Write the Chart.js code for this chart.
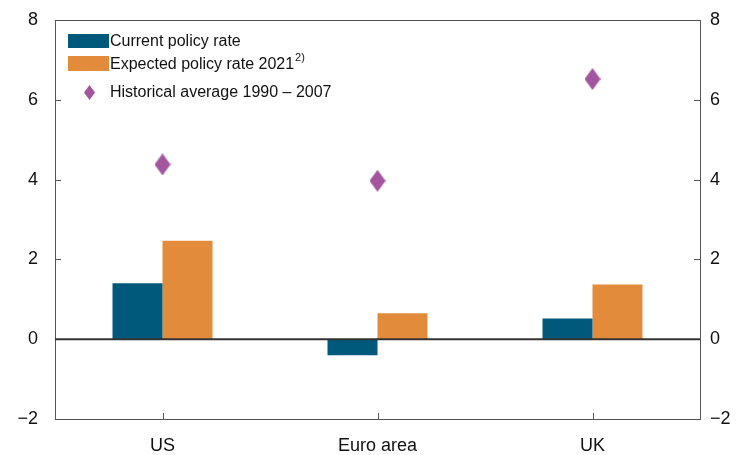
<!DOCTYPE html>
<html lang="en">
<head>
    <meta charset="UTF-8">
    <title>Policy rates</title>
    <style>
        body { margin: 0; background: #fff; }
        .chart-container { width: 741px; height: 455px; }
    </style>
</head>
<body>
    <div class="chart-container">
        <canvas id="myChart" width="741" height="455"></canvas>
    </div>

    <script src="https://cdn.jsdelivr.net/npm/chart.js"></script>
    <script>
        const categories = ['US', 'Euro area', 'UK'];
        const currentRate = [1.4, -0.4, 0.52];
        const expectedRate = [2.47, 0.65, 1.37];
        const historicalAvg = [4.38, 3.97, 6.52];
        const yTicks = [-2, 0, 2, 4, 6, 8];

        const blue = '#00587a';
        const orange = '#e28c3b';
        const purple = '#a3559e';
        const fontFamily = '"Liberation Sans", Arial, sans-serif';

        // elongated diamond used as point style
        function makeDiamond(w, h) {
            const c = document.createElement('canvas');
            c.width = w; c.height = h;
            const g = c.getContext('2d');
            g.fillStyle = purple;
            g.beginPath();
            g.moveTo(w / 2, 0);
            g.lineTo(w, h / 2);
            g.lineTo(w / 2, h);
            g.lineTo(0, h / 2);
            g.closePath();
            g.fill();
            return c;
        }
        const diamond = makeDiamond(16, 22);
        const smallDiamond = makeDiamond(11, 15);

        // box frame, inward ticks, zero line and legend
        const decorations = {
            id: 'decorations',
            afterDatasetsDraw(chart) {
                const { ctx, chartArea: a, scales } = chart;
                ctx.save();
                ctx.strokeStyle = '#555';
                ctx.lineWidth = 1;
                ctx.strokeRect(a.left + 0.5, a.top + 0.5, a.right - a.left, a.bottom - a.top);
                ctx.beginPath();
                yTicks.forEach(v => {
                    const y = Math.round(scales.y.getPixelForValue(v)) + 0.5;
                    ctx.moveTo(a.left, y); ctx.lineTo(a.left + 6, y);
                    ctx.moveTo(a.right, y); ctx.lineTo(a.right - 6, y);
                });
                categories.forEach((c, i) => {
                    const x = Math.round(scales.x.getPixelForValue(i)) + 0.5;
                    ctx.moveTo(x, a.bottom); ctx.lineTo(x, a.bottom - 6);
                });
                ctx.stroke();

                const y0 = scales.y.getPixelForValue(0);
                ctx.strokeStyle = '#333';
                ctx.lineWidth = 2;
                ctx.beginPath();
                ctx.moveTo(a.left, y0); ctx.lineTo(a.right, y0);
                ctx.stroke();

                // legend
                ctx.font = '16px ' + fontFamily;
                ctx.textBaseline = 'middle';
                ctx.fillStyle = blue;
                ctx.fillRect(68, 34, 41, 14);
                ctx.fillStyle = orange;
                ctx.fillRect(68, 56, 41, 15);
                ctx.drawImage(smallDiamond, 84, 85);
                ctx.fillStyle = '#111';
                ctx.fillText('Current policy rate', 110, 42);
                ctx.fillText('Expected policy rate 2021', 110, 65);
                const w = ctx.measureText('Expected policy rate 2021').width;
                ctx.font = '11px ' + fontFamily;
                ctx.fillText('2)', 110 + w + 1, 58);
                ctx.font = '16px ' + fontFamily;
                ctx.fillText('Historical average 1990 \u2013 2007', 110, 93);
                ctx.restore();
            }
        };

        const tickFont = { family: fontFamily, size: 18 };
        const fmt = v => String(v).replace('-', '\u2212');
        function fitY(width) {
            return function (s) {
                s.width = width;
                s.paddingTop = 0;
                s.paddingBottom = 0;
            };
        }

        const ctx = document.getElementById('myChart').getContext('2d');
        new Chart(ctx, {
            type: 'bar',
            data: {
                labels: categories,
                datasets: [
                    {
                        type: 'line',
                        label: 'Historical average 1990 \u2013 2007',
                        data: historicalAvg,
                        showLine: false,
                        pointStyle: diamond,
                        pointRadius: 11,
                        order: 0
                    },
                    {
                        label: 'Current policy rate',
                        data: currentRate,
                        backgroundColor: blue,
                        order: 1
                    },
                    {
                        label: 'Expected policy rate 2021',
                        data: expectedRate,
                        backgroundColor: orange,
                        order: 1
                    }
                ]
            },
            options: {
                responsive: false,
                animation: false,
                layout: { padding: { top: 20 } },
                plugins: {
                    legend: { display: false },
                    tooltip: { enabled: false }
                },
                datasets: {
                    bar: { barPercentage: 1, categoryPercentage: 0.465 }
                },
                scales: {
                    x: {
                        grid: { display: false, drawTicks: false },
                        border: { display: false },
                        ticks: { font: tickFont, color: '#111', padding: 16, maxRotation: 0 },
                        afterFit(s) { s.height = 36; s.paddingLeft = 0; s.paddingRight = 0; }
                    },
                    y: {
                        min: -2, max: 8,
                        grid: { display: false, drawTicks: false },
                        border: { display: false },
                        ticks: { stepSize: 2, font: tickFont, color: '#111', padding: 17, callback: fmt },
                        afterFit: fitY(55)
                    },
                    y2: {
                        position: 'right',
                        min: -2, max: 8,
                        grid: { display: false, drawTicks: false },
                        border: { display: false },
                        ticks: { stepSize: 2, font: tickFont, color: '#111', padding: 10, callback: fmt },
                        afterFit: fitY(41)
                    }
                }
            },
            plugins: [decorations]
        });
    </script>
</body>
</html>
